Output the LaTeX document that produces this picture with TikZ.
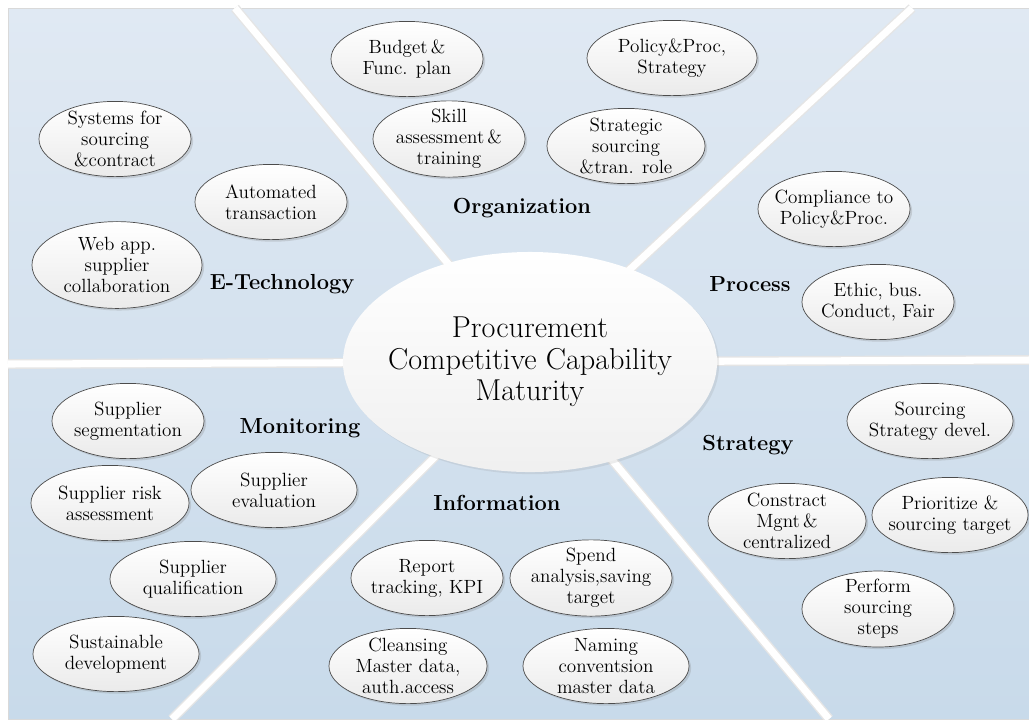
\documentclass[tikz,border=0pt]{standalone}
\usetikzlibrary{shapes.geometric,shadows}

\begin{document}
\begin{tikzpicture}[x=0.025cm,y=-0.025cm]
    \definecolor{paneltop}{RGB}{224,233,243}
    \definecolor{panelbottom}{RGB}{200,218,234}
    \tikzstyle{every node}=[font=\fontsize{13.6}{15}\selectfont, text=black, align=center, inner sep=0pt]
    \tikzstyle{bubble}=[ellipse, draw=black!70, line width=0.5pt, top color=white, bottom color=black!8, inner xsep=-10pt, inner ysep=-2pt, minimum width=3.8cm, minimum height=1.88cm, drop shadow={opacity=0.25, shadow xshift=1.5pt, shadow yshift=-1.5pt}]
    \tikzstyle{wide}=[minimum width=4.15cm]
    \tikzstyle{area}=[font=\fontsize{15.5}{17}\selectfont\bfseries]
    \tikzstyle{gapshade}=[black!10, line width=7pt]
    \tikzstyle{gap}=[white, line width=5pt]

    \useasboundingbox (0,0) rectangle (1029,719);
    \shade[top color=paneltop, bottom color=panelbottom, draw=black!15] (8,8) rectangle (1029,719);

    \coordinate (hub) at (530,362);
    \coordinate (topl) at (235,8);
    \coordinate (topr) at (912,8);
    \coordinate (right) at (1029,360);
    \coordinate (botr) at (829,719);
    \coordinate (botl) at (172,719);
    \coordinate (left) at (8,364);

    \foreach \e in {topl,topr,right,botr,botl,left}
        \draw[gapshade] (hub) -- (\e);
    \foreach \e in {topl,topr,right,botr,botl,left}
        \draw[gap] (hub) -- (\e);

    \node (core) at (hub) [ellipse, inner xsep=-25pt, inner ysep=-4pt, minimum width=9.35cm, minimum height=5.5cm, top color=white, bottom color=black!6, font=\fontsize{21.5}{22.5}\selectfont, drop shadow={opacity=0.15, shadow xshift=1.5pt, shadow yshift=-1.5pt}] {Procurement\\Competitive Capability\\Maturity};

    \node[area] (org) at (522,208) {Organization};
    \node[area] (proc) at (750,284) {Process};
    \node[area] (etech) at (282,284) {E-Technology};
    \node[area] (mon) at (300,428) {Monitoring};
    \node[area] (info) at (497,503) {Information};
    \node[area] (strat) at (748,445) {Strategy};

    \node[bubble] (budget) at (407,59) {Budget\,\&\\Func. plan};
    \node[bubble] (skill) at (449,139) {Skill\\assessment\,\&\\training};
    \node[bubble, minimum width=4.25cm] (policy) at (672,58) {Policy\&Proc,\\Strategy};
    \node[bubble, minimum width=3.95cm] (role) at (626,146) {Strategic\\sourcing\\\&tran. role};

    \node[bubble] (comply) at (834,209) {Compliance to\\Policy\&Proc.};
    \node[bubble] (ethic) at (878,302) {Ethic, bus.\\Conduct, Fair};

    \node[bubble] (systems) at (115,139) {Systems for\\sourcing\\\&contract};
    \node[bubble] (auto) at (271,202) {Automated\\transaction};
    \node[bubble, minimum width=4.25cm, minimum height=2.17cm] (web) at (117,265) {Web app.\\supplier\\collaboration};

    \node[bubble] (segment) at (128,421) {Supplier\\segmentation};
    \node[bubble, minimum width=3.95cm] (risk) at (110,503) {Supplier risk\\assessment};
    \node[bubble, wide] (eval) at (274,490) {Supplier\\evaluation};
    \node[bubble, wide] (qualify) at (193,579) {Supplier\\qualification};
    \node[bubble, wide] (sustain) at (116,654) {Sustainable\\development};

    \node[bubble] (report) at (427,578) {Report\\tracking, KPI};
    \node[bubble, minimum width=4.05cm] (spend) at (591,578) {Spend\\analysis,saving\\target};
    \node[bubble, minimum width=3.95cm] (cleanse) at (408,666) {Cleansing\\Master data,\\auth.access};
    \node[bubble, wide] (naming) at (606,666) {Naming\\conventsion\\master data};

    \node[bubble, wide] (sdevel) at (930,421) {Sourcing\\Strategy devel.};
    \node[bubble, minimum width=3.95cm] (contract) at (787,521) {Constract\\Mgnt\,\&\\centralized};
    \node[bubble, minimum width=3.9cm] (target) at (950,515) {Prioritize \&\\sourcing target};
    \node[bubble] (steps) at (878,609) {Perform\\sourcing\\steps};
\end{tikzpicture}
\end{document}
